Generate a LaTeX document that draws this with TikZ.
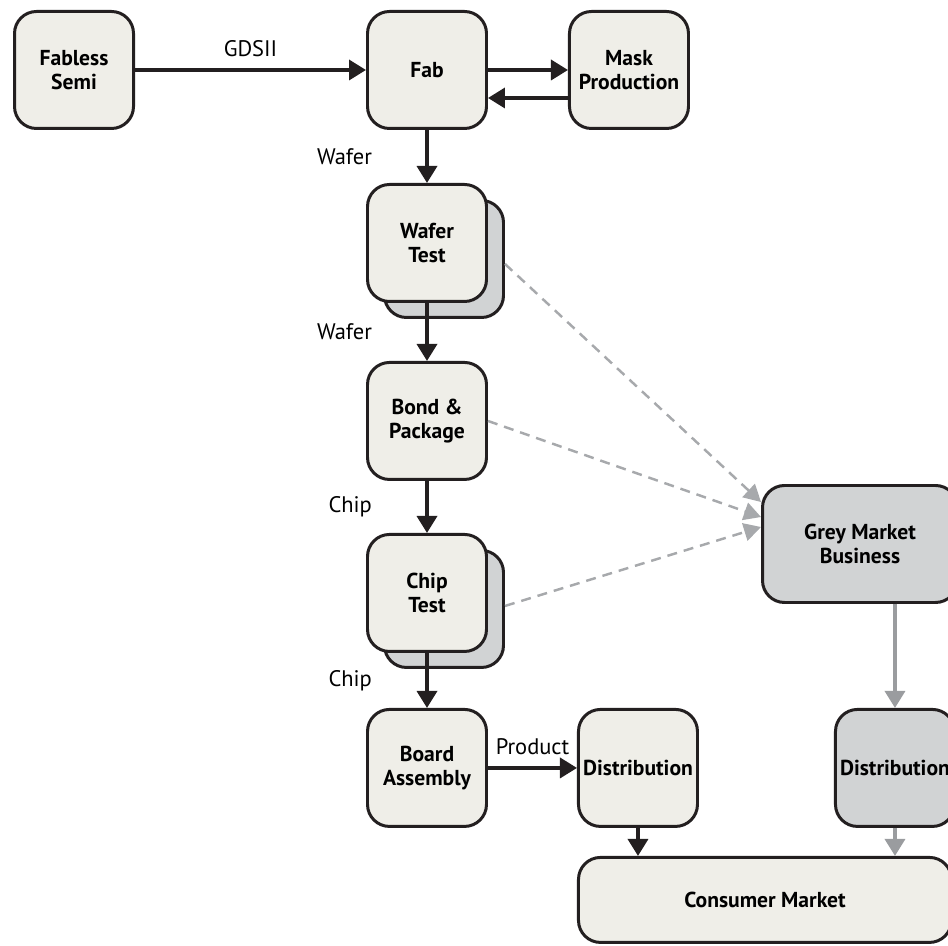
\documentclass[tikz,border=0pt]{standalone}
\usepackage{fontspec}
\setmainfont{PT Sans}
\usetikzlibrary{positioning}
\usetikzlibrary{arrows.meta}
\usetikzlibrary{shadows}

\definecolor{boxfill}{HTML}{EFEEE8}
\definecolor{greyfill}{HTML}{D1D3D4}
\definecolor{boxline}{HTML}{231F20}
\definecolor{dashgrey}{HTML}{A7A9AC}
\definecolor{arrowgrey}{HTML}{9A9C9F}

\begin{document}
\begin{tikzpicture}[
	box/.style={draw=boxline,line width=1.7pt,fill=boxfill,rounded corners=0.44cm,
		minimum width=2.38cm,minimum height=2.34cm,align=center,inner sep=2pt,
		font=\fontsize{12.3}{14}\selectfont\bfseries},
	greybox/.style={box,fill=greyfill},
	stackbox/.style={box,copy shadow={shadow xshift=0.34cm,shadow yshift=-0.32cm,
		fill=greyfill,draw=boxline,line width=1.7pt}},
	flow/.style={line width=2pt,draw=boxline,-{Triangle[length=0.34cm,width=0.4cm]}},
	greyflow/.style={flow,draw=arrowgrey},
	leak/.style={line width=1.4pt,draw=dashgrey,dash pattern=on 0.2cm off 0.14cm,
		-{Triangle[length=0.34cm,width=0.36cm]}},
	lbl/.style={font=\fontsize{12.8}{14}\selectfont}
]
	\useasboundingbox (0,0) rectangle (18.96,-18.92);

	% supply chain, top row
	\node[box] (fab) at (8.54,-1.4) {Fab};
	\node[box,left=4.62cm of fab] (fabless) {Fabless\\Semi};
	\node[box,right=1.6cm of fab] (mask) {Mask\\Production};

	% main column
	\node[stackbox,below=1.06cm of fab] (wafertest) {Wafer\\Test};
	\node[box,below=1.16cm of wafertest] (bond) {Bond \&\\Package};
	\node[stackbox,below=1.04cm of bond] (chiptest) {Chip\\Test};
	\node[box,below=1.1cm of chiptest] (board) {Board\\Assembly};
	\node[box,right=1.78cm of board] (dist1) {Distribution};
	\node[box,minimum width=7.46cm,minimum height=1.7cm,
		below right=0.56cm and 0cm of dist1.south west] (consumer) {Consumer Market};

	% grey market side
	\node[greybox,minimum width=3.9cm] (grey) at (17.2,-10.88) {Grey Market\\Business};
	\node[greybox,right=2.7cm of dist1] (dist2) {Distribution};

	\draw[flow] (fabless) -- node[lbl,midway,above=3pt] {GDSII} (fab);
	\draw[flow] (fab) -- (mask);
	\draw[flow] ([yshift=-0.56cm]mask.west) -- ([yshift=-0.56cm]fab.east);
	\draw[flow] (fab) -- node[lbl,midway,left=0.95cm] {Wafer} (wafertest);
	\draw[flow] (wafertest) -- node[lbl,midway,left=0.95cm] {Wafer} (bond);
	\draw[flow] (bond) -- node[lbl,midway,left=0.95cm] {Chip} (chiptest);
	\draw[flow] (chiptest) -- node[lbl,midway,left=0.95cm] {Chip} (board);
	\draw[flow] (board) -- node[lbl,midway,above=3pt] {Product} (dist1);
	\draw[flow] (dist1) -- (dist1 |- consumer.north);

	\draw[leak] ([shift={(0.34cm,-0.42cm)}]wafertest.east) -- ([yshift=0.84cm]grey.west);
	\draw[leak] (bond.east) -- ([yshift=0.54cm]grey.west);
	\draw[leak] ([shift={(0.34cm,-0.26cm)}]chiptest.east) -- ([yshift=0.34cm]grey.west);

	\draw[greyflow] (grey.south -| dist2.north) -- (dist2.north);
	\draw[greyflow] (dist2) -- (dist2 |- consumer.north);
\end{tikzpicture}
\end{document}
